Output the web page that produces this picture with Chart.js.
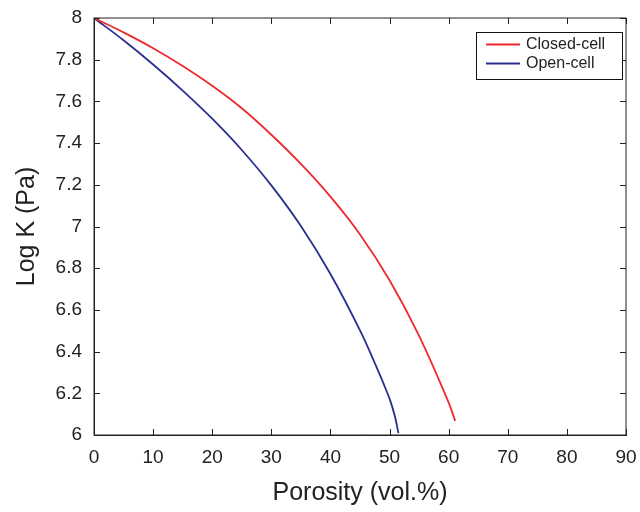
<!DOCTYPE html>
<html>
<head>
<meta charset="utf-8">
<script src="https://cdn.jsdelivr.net/npm/chart.js@4/dist/chart.umd.min.js"></script>
<style>
  html, body { margin: 0; padding: 0; background: #fff; }
  #wrap { width: 640px; height: 512px; }
</style>
</head>
<body>
<div id="wrap"><canvas id="kChart" width="640" height="512"></canvas></div>
<script>
// valores
const closedPorosity = [0, 5, 10, 15, 20, 25, 30, 35, 40, 45, 50, 55, 60, 61.1];
const closedLogK = [8.0, 7.931, 7.855, 7.77, 7.675, 7.567, 7.44, 7.3, 7.143, 6.962, 6.742, 6.475, 6.155, 6.068];
const openPorosity = [0, 5, 10, 15, 20, 25, 30, 35, 40, 45, 47.8, 49, 50.1, 50.9, 51.5];
const openLogK = [8.0, 7.893, 7.777, 7.652, 7.517, 7.367, 7.197, 7.002, 6.772, 6.502, 6.326, 6.245, 6.166, 6.09, 6.009];
const seriesLabels = ['Closed-cell', 'Open-cell'];
const seriesColors = ['#ee2a2e', '#2a2f8f'];
const xTicks = [0, 10, 20, 30, 40, 50, 60, 70, 80, 90];
const yTicks = [6, 6.2, 6.4, 6.6, 6.8, 7, 7.2, 7.4, 7.6, 7.8, 8];

const fontFamily = '"Liberation Sans", Arial, Helvetica, sans-serif';

function toPoints(xs, ys) {
    return xs.map((x, i) => ({ x: x, y: ys[i] }));
}

// caja, marcas hacia adentro y leyenda
const framePlugin = {
    id: 'frame',
    afterDraw(chart) {
        const ctx = chart.ctx;
        const area = chart.chartArea;
        const xs = chart.scales.x;
        const ys = chart.scales.y;
        const tick = 6;
        ctx.save();
        ctx.strokeStyle = '#222';
        ctx.lineWidth = 1;
        ctx.strokeRect(area.left, area.top, area.right - area.left, area.bottom - area.top);
        ctx.beginPath();
        xTicks.forEach(v => {
            const px = Math.round(xs.getPixelForValue(v)) + 0.5;
            ctx.moveTo(px, area.bottom); ctx.lineTo(px, area.bottom - tick);
            ctx.moveTo(px, area.top); ctx.lineTo(px, area.top + tick);
        });
        yTicks.forEach(v => {
            const py = Math.round(ys.getPixelForValue(v)) + 0.5;
            ctx.moveTo(area.left, py); ctx.lineTo(area.left + tick, py);
            ctx.moveTo(area.right, py); ctx.lineTo(area.right - tick, py);
        });
        ctx.stroke();

        // leyenda
        const bx = area.right - 150, by = area.top + 14, bw = 146, bh = 47;
        ctx.fillStyle = '#fff';
        ctx.fillRect(bx, by, bw, bh);
        ctx.strokeStyle = '#111';
        ctx.strokeRect(bx + 0.5, by + 0.5, bw, bh);
        ctx.font = '16px ' + fontFamily;
        ctx.textBaseline = 'middle';
        chart.data.datasets.forEach((ds, i) => {
            const ly = by + 12.5 + i * 19;
            ctx.strokeStyle = ds.borderColor;
            ctx.lineWidth = 2;
            ctx.beginPath();
            ctx.moveTo(bx + 10, ly); ctx.lineTo(bx + 44, ly);
            ctx.stroke();
            ctx.fillStyle = '#222';
            ctx.fillText(ds.label, bx + 50, ly);
        });
        ctx.restore();
    }
};

const kChart = new Chart(document.getElementById('kChart').getContext('2d'), {
    type: 'scatter',
    data: {
        datasets: [
            {
                label: seriesLabels[0],
                data: toPoints(closedPorosity, closedLogK),
                borderColor: seriesColors[0],
                backgroundColor: seriesColors[0],
                borderWidth: 1.8,
                showLine: true,
                pointRadius: 0,
                tension: 0.4
            },
            {
                label: seriesLabels[1],
                data: toPoints(openPorosity, openLogK),
                borderColor: seriesColors[1],
                backgroundColor: seriesColors[1],
                borderWidth: 1.8,
                showLine: true,
                pointRadius: 0,
                tension: 0.4
            }
        ]
    },
    options: {
        responsive: false,
        animation: false,
        layout: { padding: { top: 18, right: 14, left: 0, bottom: 0 } },
        plugins: {
            legend: { display: false },
            tooltip: { enabled: false }
        },
        scales: {
            x: {
                type: 'linear',
                min: 0,
                max: 90,
                afterFit(scale) {
                    scale.height = 77;
                    scale.paddingLeft = 0;
                    scale.paddingRight = 0;
                },
                afterBuildTicks(scale) { scale.ticks = xTicks.map(v => ({ value: v })); },
                grid: { display: false, drawTicks: false },
                border: { display: true, color: '#222', width: 1 },
                ticks: {
                    padding: 11,
                    color: '#222',
                    font: { family: fontFamily, size: 19 },
                    callback: v => String(v)
                },
                title: {
                    display: true,
                    text: 'Porosity (vol.%)',
                    color: '#222',
                    font: { family: fontFamily, size: 25 },
                    padding: { top: 0, bottom: 4 }
                }
            },
            y: {
                type: 'linear',
                min: 6,
                max: 8,
                afterFit(scale) {
                    scale.width = 94;
                    scale.paddingTop = 0;
                    scale.paddingBottom = 0;
                },
                afterBuildTicks(scale) { scale.ticks = yTicks.map(v => ({ value: v })); },
                grid: { display: false, drawTicks: false },
                border: { display: true, color: '#222', width: 1 },
                ticks: {
                    padding: 12,
                    color: '#222',
                    font: { family: fontFamily, size: 19 },
                    callback: v => String(+v.toFixed(1))
                },
                title: {
                    display: true,
                    text: 'Log K (Pa)',
                    color: '#222',
                    font: { family: fontFamily, size: 25 },
                    padding: { top: 12, bottom: 0 }
                }
            }
        }
    },
    plugins: [framePlugin]
});
</script>
</body>
</html>
